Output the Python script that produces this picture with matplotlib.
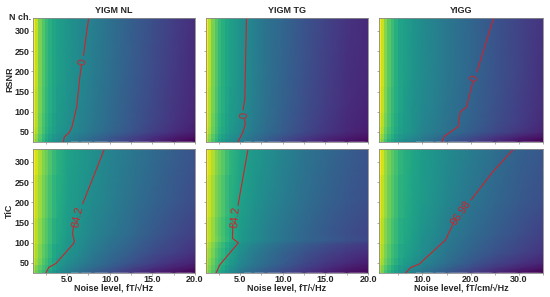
import numpy as np
from matplotlib import pyplot as plt

plt.rcParams['font.family'] = ['Liberation Sans', 'DejaVu Sans']
plt.rcParams['font.weight'] = 'bold'
plt.rcParams['axes.labelweight'] = 'bold'

W, H = 550, 297
TXT = '#262626'

titles = ['YIGM NL', 'YIGM TG', 'YIGG']
xlabels = ['Noise level, fT/√Hz', 'Noise level, fT/√Hz', 'Noise level, fT/cm/√Hz']
row_names = ['RSNR', 'TiC']

# noise levels of the heatmap columns (last 8 are drawn smooth)
x_fine = [1, 1.4, 1.8, 2.2, 2.6, 3, 3.5, 4, 5, 6.5, 8, 10, 12.5, 15, 17.5, 20]
x_grad = [1, 1.7, 2.4, 3.1, 3.8, 4.5, 5.5, 6.5, 8, 10, 12.5, 15, 20, 25, 30, 35]
y_rows = [27, 38, 50, 75, 120, 200, 333]
y_rows_tg = [27, 38, 50, 75, 97, 106, 125, 200, 333]

z_nl_rsnr = [
    [.90, .81, .72, .65, .59, .55, .51, .48, .44, .38, .33, .26, .18, .11, .05, .00],
    [.92, .83, .74, .67, .61, .57, .53, .50, .46, .40, .35, .28, .21, .14, .08, .04],
    [.96, .87, .77, .70, .64, .60, .56, .53, .49, .44, .39, .33, .26, .19, .13, .08],
    [.98, .88, .78, .71, .65, .61, .57, .54, .50, .45, .40, .34, .27, .21, .15, .10],
    [.99, .89, .79, .72, .66, .62, .58, .55, .51, .46, .41, .35, .28, .22, .16, .11],
    [1.0, .90, .80, .73, .67, .63, .59, .56, .52, .47, .42, .36, .29, .23, .17, .12],
    [1.0, .90, .80, .73, .67, .63, .59, .56, .52, .47, .43, .37, .30, .24, .18, .13],
]
z_tg_rsnr = [
    [.90, .81, .72, .65, .59, .55, .51, .48, .43, .36, .30, .23, .15, .09, .05, .02],
    [.92, .83, .74, .67, .61, .57, .53, .50, .45, .38, .32, .25, .18, .12, .08, .05],
    [.96, .87, .77, .70, .64, .60, .56, .53, .48, .41, .35, .29, .22, .16, .11, .08],
    [.98, .88, .78, .71, .65, .61, .57, .54, .49, .42, .36, .30, .23, .17, .12, .09],
    [.99, .89, .79, .72, .66, .62, .58, .55, .50, .43, .37, .31, .24, .18, .13, .10],
    [1.0, .90, .80, .73, .67, .63, .59, .56, .51, .44, .38, .32, .25, .19, .14, .11],
    [1.0, .90, .80, .73, .67, .63, .59, .56, .51, .44, .38, .33, .26, .20, .15, .12],
]
z_yigg_rsnr = [
    [.88, .80, .71, .64, .59, .54, .50, .48, .44, .39, .34, .29, .20, .12, .05, .00],
    [.91, .83, .74, .67, .62, .57, .53, .51, .47, .42, .37, .32, .24, .16, .09, .05],
    [.95, .87, .77, .70, .65, .60, .56, .54, .50, .45, .41, .37, .29, .22, .16, .10],
    [.97, .89, .79, .72, .66, .61, .57, .55, .51, .46, .42, .38, .31, .24, .18, .12],
    [.99, .91, .81, .73, .67, .62, .58, .55, .51, .47, .43, .39, .32, .25, .19, .13],
    [1.0, .92, .82, .74, .68, .63, .58, .56, .52, .48, .44, .40, .33, .26, .20, .14],
    [1.0, .92, .82, .74, .68, .63, .58, .56, .52, .48, .44, .40, .33, .26, .20, .15],
]
z_nl_tic = [
    [.86, .78, .72, .67, .63, .58, .53, .49, .43, .36, .30, .24, .16, .09, .05, .00],
    [.88, .80, .75, .70, .66, .61, .56, .52, .46, .40, .34, .28, .20, .14, .09, .05],
    [.92, .85, .79, .73, .69, .64, .58, .54, .49, .43, .38, .32, .25, .19, .13, .09],
    [.94, .87, .81, .75, .71, .66, .60, .57, .52, .47, .41, .35, .29, .23, .19, .14],
    [.96, .89, .83, .77, .73, .68, .63, .60, .54, .50, .45, .40, .34, .28, .23, .19],
    [.98, .91, .85, .79, .75, .70, .65, .62, .56, .52, .48, .43, .37, .32, .27, .23],
    [1.0, .93, .87, .81, .77, .72, .67, .64, .58, .54, .50, .45, .40, .35, .30, .26],
]
z_tg_tic = [
    [.86, .79, .72, .66, .61, .57, .52, .48, .40, .33, .28, .22, .15, .09, .05, .02],
    [.88, .81, .75, .69, .64, .60, .55, .51, .44, .37, .32, .26, .19, .13, .08, .05],
    [.90, .83, .77, .71, .67, .63, .58, .54, .47, .40, .35, .29, .22, .16, .12, .08],
    [.91, .85, .79, .73, .69, .65, .60, .56, .49, .42, .37, .31, .25, .20, .16, .13],
    [.93, .87, .81, .75, .71, .67, .62, .58, .52, .46, .41, .35, .29, .24, .20, .17],
    [.96, .90, .84, .79, .75, .71, .66, .62, .55, .49, .44, .39, .33, .29, .25, .22],
    [.96, .90, .84, .78, .74, .70, .65, .61, .55, .49, .44, .39, .33, .28, .24, .21],
    [.98, .92, .86, .80, .76, .72, .67, .63, .57, .52, .47, .42, .36, .31, .27, .24],
    [1.0, .94, .88, .82, .78, .74, .69, .65, .59, .54, .50, .45, .39, .34, .30, .26],
]
z_yigg_tic = [
    [.86, .79, .71, .65, .60, .56, .52, .49, .44, .39, .33, .28, .19, .11, .05, .00],
    [.88, .81, .74, .68, .63, .59, .55, .52, .47, .42, .37, .32, .23, .16, .10, .05],
    [.92, .85, .78, .72, .67, .63, .58, .55, .51, .46, .41, .36, .27, .20, .15, .10],
    [.94, .87, .80, .74, .69, .65, .60, .58, .54, .49, .44, .39, .31, .25, .20, .15],
    [.96, .89, .82, .76, .71, .67, .62, .60, .56, .51, .47, .42, .35, .29, .24, .19],
    [.98, .91, .84, .78, .73, .69, .64, .62, .58, .54, .50, .46, .39, .33, .28, .24],
    [1.0, .93, .85, .79, .74, .70, .65, .63, .59, .55, .52, .48, .42, .36, .31, .27],
]

# contour lines, gap at the label
line_nl_rsnr_x = [4.56, 4.68, 5.27, 5.58, 6.13, 6.45, 6.68, np.nan, 6.92, 7.54]
line_nl_rsnr_y = [26, 38, 49, 63, 112, 178, 215, np.nan, 240, 333]
line_tg_rsnr_x = [4.76, 5.27, 5.59, 5.55, np.nan, 5.35, 5.55, 5.63, 5.75]
line_tg_rsnr_y = [26, 47, 67, 81, np.nan, 105, 131, 213, 333]
line_yigg_rsnr_x = [14.06, 14.6, 17.4, 17.85, 19.1, 20.46, np.nan, 21.3, 24.8]
line_yigg_rsnr_y = [26, 40, 63, 100, 111, 174, np.nan, 199, 333]
line_nl_tic_x = [2.53, 2.84, 3.7, 5.75, 5.86, 5.63, 5.75, np.nan, 6.84, 9.4]
line_nl_tic_y = [26, 39, 49, 98, 104, 122, 140, np.nan, 197, 333]
line_tg_tic_x = [2.2, 2.6, 4.8, 4.1, 4.14, np.nan, 4.76, 5.94]
line_tg_tic_y = [26, 45, 100, 111, 140, np.nan, 193, 333]
line_yigg_tic_x = [6.56, 7.6, 9.3, 14.8, 16.5, np.nan, 20.1, 24.5, 29]
line_yigg_tic_y = [26, 39, 47, 107, 150, np.nan, 206, 274, 333]

labels = [['0', '0', '0'], ['84.2', '84.2', '96.98']]
label_x = [[6.84, 5.47, 20.8], [6.25, 4.45, 18.1]]
label_y = [[225, 91, 183], [164, 163, 175]]
label_rot = [[85, 92, 75], [78, 85, 55]]

panels = [
    [(x_fine, y_rows, z_nl_rsnr, line_nl_rsnr_x, line_nl_rsnr_y),
     (x_fine, y_rows, z_tg_rsnr, line_tg_rsnr_x, line_tg_rsnr_y),
     (x_grad, y_rows, z_yigg_rsnr, line_yigg_rsnr_x, line_yigg_rsnr_y)],
    [(x_fine, y_rows, z_nl_tic, line_nl_tic_x, line_nl_tic_y),
     (x_fine, y_rows_tg, z_tg_tic, line_tg_tic_x, line_tg_tic_y),
     (x_grad, y_rows, z_yigg_tic, line_yigg_tic_x, line_yigg_tic_y)],
]

col_px = [(33, 195), (206, 368), (379, 543)]
row_px = [(17.5, 141.5), (148.5, 272.5)]

fig = plt.figure(figsize=(W / 100, H / 100), dpi=100)

for r in range(2):
    for c in range(3):
        x0, x1 = col_px[c]
        y0, y1 = row_px[r]
        ax = fig.add_axes([x0 / W, 1 - y1 / H, (x1 - x0) / W, (y1 - y0) / H])
        xs, ys, z, lx, ly = panels[r][c]
        xs = np.array(xs, dtype=float)
        ys = np.array(ys, dtype=float)
        z = np.array(z)
        # left columns show as steps, the rest is smooth
        k = 8
        ax.pcolormesh(xs[:k + 1], ys, z[:, :k + 1], cmap='viridis', vmin=0, vmax=1, shading='nearest')
        ax.pcolormesh(xs[k - 1:], ys, z[:, k - 1:], cmap='viridis', vmin=0, vmax=1, shading='gouraud')
        ax.plot(lx, ly, color='#c9252d', lw=0.8)
        ax.text(label_x[r][c], label_y[r][c], labels[r][c], color='#c9252d', fontsize=8, fontweight='normal',
                rotation=label_rot[r][c], ha='center', va='center')

        xmax = 35 if c == 2 else 20
        ax.set_xlim(1, xmax)
        ax.set_ylim(26.5, 333)
        step = 5 if c == 2 else 2.5
        ticks = np.arange(step if c < 2 else 5, xmax + 0.01, step)
        ax.set_xticks(ticks)
        ax.set_yticks([50, 100, 150, 200, 250, 300])
        ax.tick_params(length=1.5, width=0.5, color='#888888', labelsize=6.5, labelcolor=TXT, pad=1)
        ax.tick_params(axis='x', pad=0.2)
        if r == 1:
            if c == 2:
                ax.set_xticklabels([f'{t:.1f}' if t % 10 == 0 else '' for t in ticks])
            else:
                ax.set_xticklabels([f'{t:.1f}' if t % 5 == 0 else '' for t in ticks])
            ax.set_xlabel(xlabels[c], fontsize=6.5, color=TXT, labelpad=-0.4)
        else:
            ax.set_xticklabels([])
            ax.set_title(titles[c], fontsize=6.5, color=TXT, fontweight='bold', pad=3)
        if c == 0:
            ax.set_ylabel(row_names[r], fontsize=6.5, color=TXT)
            ax.yaxis.set_label_coords(-19 / 162, 0.5)
        else:
            ax.set_yticklabels([])
        for s in ax.spines.values():
            s.set_color('#8a8a8a')
            s.set_linewidth(0.6)

fig.text(31 / W, 1 - 18 / H, 'N ch.', fontsize=6.5, color=TXT, ha='right', va='center')
fig.savefig('out.png', dpi=100)
